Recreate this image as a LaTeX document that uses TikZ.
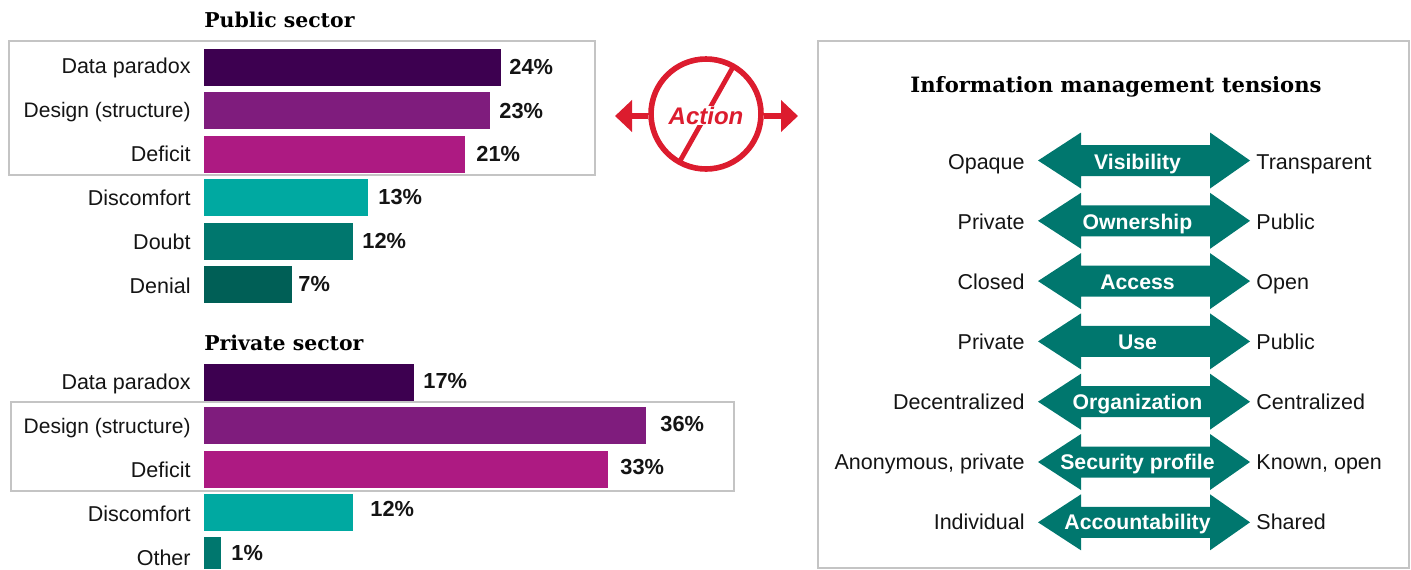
\documentclass[tikz,border=0pt]{standalone}
\usepackage{fontspec}
\setmainfont{Liberation Sans}
\newfontfamily\slab{DejaVu Serif}
\usetikzlibrary{arrows.meta}
\definecolor{cA}{HTML}{3D0050}
\definecolor{cB}{HTML}{7F1C7D}
\definecolor{cC}{HTML}{AD1A82}
\definecolor{cD}{HTML}{00A9A1}
\definecolor{cE}{HTML}{00776E}
\definecolor{cF}{HTML}{005F56}
\definecolor{act}{HTML}{DC1C2E}
\definecolor{frameg}{HTML}{C4C4C4}
\newcommand{\lbl}[3]{\node[labeltxt,anchor=base east] (#1) at (191,#2) {#3};}
\newcommand{\bbar}[5]{\fill[#5] (204,#2) rectangle (#4,#3);
  \node[inner sep=0] (#1) at (#4,{(#2+#3)/2}) {};}
\newcommand{\pct}[3]{\node[pcttxt,anchor=base west] at (#1,#2) {#3};}
\newcommand{\tension}[5]{%
  \node[tensiontxt,anchor=base] (t#1) at (1137.5,#2) {#4};
  \node[labeltxt,anchor=base east] (l#1) at (1025,#2) {#3};
  \node[labeltxt,anchor=base west] (r#1) at (1256,#2) {#5};}
\tikzset{
  labeltxt/.style={font=\fontsize{10.75}{12}\selectfont,text=black!92,inner sep=0},
  narrowtxt/.style={font=\fontsize{10.5}{12}\selectfont},
  pcttxt/.style={font=\fontsize{10.9}{12}\selectfont\bfseries,text=black!92,inner sep=0},
  head/.style={font=\fontsize{10.2}{12}\selectfont\slab\bfseries,text=black,inner sep=0},
  tensiontxt/.style={font=\fontsize{10.6}{12}\selectfont\bfseries,text=white,inner sep=0},
  panel/.style={draw=frameg,line width=1.45pt},
  redline/.style={draw=act,line width=2.8pt},
}
\begin{document}
\begin{tikzpicture}[x=0.5pt,y=-0.5pt]
\useasboundingbox (0,0) rectangle (1411,569);
% public sector
\node[head,anchor=base west] (pub) at (204,27) {Public sector};
\draw[panel] (9,41) rectangle (595,175);
\bbar{a1}{49}{86}{501}{cA}
\bbar{a2}{92}{129}{490}{cB}
\bbar{a3}{136}{173}{465}{cC}
\bbar{a4}{179}{216}{368}{cD}
\bbar{a5}{223}{260}{353}{cE}
\bbar{a6}{266}{303}{292}{cF}
\lbl{la1}{73}{Data paradox}
\node[labeltxt,narrowtxt,anchor=base east] (la2) at (191,117) {Design (structure)};
\lbl{la3}{161.5}{Deficit}
\lbl{la4}{205.5}{Discomfort}
\lbl{la5}{249.5}{Doubt}
\lbl{la6}{293.5}{Denial}
\pct{509}{74}{24\%}
\pct{499}{118}{23\%}
\pct{476}{161}{21\%}
\pct{378}{204}{13\%}
\pct{362}{248}{12\%}
\pct{298}{291}{7\%}
% private sector
\node[head,anchor=base west] (priv) at (204,350) {Private sector};
\draw[panel] (11,402) rectangle (734,491);
\bbar{b1}{364}{401}{414}{cA}
\bbar{b2}{407}{444}{646}{cB}
\bbar{b3}{451}{488}{608}{cC}
\bbar{b4}{494}{531}{353}{cD}
\bbar{b5}{537}{569}{221}{cE}
\lbl{lb1}{389}{Data paradox}
\node[labeltxt,narrowtxt,anchor=base east] (lb2) at (191,433.5) {Design (structure)};
\lbl{lb3}{477}{Deficit}
\lbl{lb4}{521}{Discomfort}
\lbl{lb5}{565}{Other}
\pct{423}{388}{17\%}
\pct{660}{431}{36\%}
\pct{620}{474.5}{33\%}
\pct{370}{516.5}{12\%}
\pct{231}{560}{1\%}
% action symbol
\node[circle,draw=act,line width=2.8pt,minimum size=55pt,inner sep=0] (act) at (706,114) {};
\coordinate (sa) at (733,67);
\coordinate (sb) at (680,161);
\draw[redline,line width=2.4pt] (sa) -- (sb);
\node[fill=white,inner xsep=1pt,inner ysep=0.5pt,anchor=base,font=\fontsize{12}{14}\selectfont\bfseries\itshape,text=act] (actl) at (706,124) {Action};
\coordinate (al) at (615,116);
\coordinate (ar) at (798,116);
\draw[redline,-{Triangle[width=15.5pt,length=8.5pt]}] (act.west |- al) -- (al);
\draw[redline,-{Triangle[width=15.5pt,length=8.5pt]}] (act.east |- ar) -- (ar);
% right panel
\draw[panel] (818,41) -- (1409,41) -- (1409,568) -- (818,568) -- cycle;
\node[head,anchor=base,font=\fontsize{10.55}{13}\selectfont\slab\bfseries] (ttl) at (1116,92) {Information management tensions};
\foreach \yy in {160.5,220.8,281.1,341.4,401.7,462,522.3}{
  \fill[cE] (1038,\yy) -- (1081,\yy-28) -- (1081,\yy-15.5) -- (1210,\yy-15.5) -- (1210,\yy-28)
    -- (1250,\yy) -- (1210,\yy+28) -- (1210,\yy+15.5) -- (1081,\yy+15.5) -- (1081,\yy+28) -- cycle;
}
\tension{1}{169}{Opaque}{Visibility}{Transparent}
\tension{2}{229}{Private}{Ownership}{Public}
\tension{3}{289}{Closed}{Access}{Open}
\tension{4}{349}{Private}{Use}{Public}
\tension{5}{409}{Decentralized}{Organization}{Centralized}
\tension{6}{469}{Anonymous, private}{Security profile}{Known, open}
\tension{7}{529}{Individual}{Accountability}{Shared}
\end{tikzpicture}
\end{document}
